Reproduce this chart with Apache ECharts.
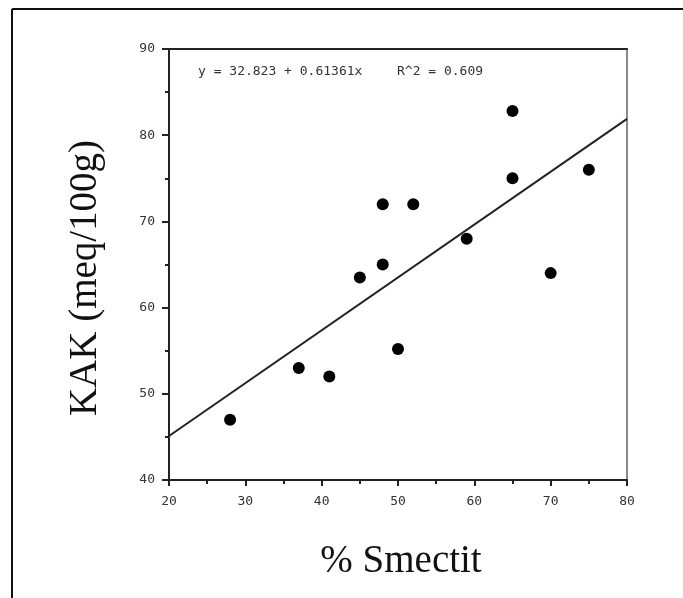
<!DOCTYPE html>
<html>
<head>
<meta charset="utf-8">
<script src="https://cdn.jsdelivr.net/npm/echarts@6/dist/echarts.min.js"></script>
<style>
  html, body { margin: 0; padding: 0; background: #fff; }
  #chart { width: 683px; height: 598px; }
</style>
</head>
<body>
<div id="chart"></div>
<script>
// % Smectit vs KAK
const smectit = [28, 37, 41, 45, 48, 48, 52, 50, 59, 65, 65, 70, 75]
const kak = [47, 53, 52, 63.5, 65, 72, 72, 55.2, 68, 82.8, 75, 64, 76]
// regression line ends (y = 32.823 + 0.61361x)
const fitX = [20, 80]
const fitY = [45.1, 81.9]
const equation = 'y = 32.823 + 0.61361x'
const rSquared = 'R^2 = 0.609'

const chart = echarts.init(document.getElementById('chart'))

const tickFont = {
  color: '#333',
  fontSize: 13,
  fontFamily: 'DejaVu Sans Mono',
}

const option = {
  animation: false,
  backgroundColor: '#fff',
  grid: { left: 169, right: 56, top: 49, bottom: 118 },
  xAxis: [
    {
      type: 'value',
      min: 20,
      max: 80,
      interval: 10,
      axisLine: { show: true, lineStyle: { color: '#222', width: 2 } },
      axisTick: { show: true, length: 6, lineStyle: { color: '#222', width: 2 } },
      minorTick: { show: true, splitNumber: 2, length: 4, lineStyle: { color: '#222', width: 2 } },
      axisLabel: Object.assign({ margin: 15 }, tickFont),
      splitLine: { show: false },
    },
    {
      type: 'value',
      position: 'top',
      min: 20,
      max: 80,
      axisLine: { show: true, lineStyle: { color: '#222', width: 2 } },
      axisTick: { show: false },
      axisLabel: { show: false },
      splitLine: { show: false },
    },
  ],
  yAxis: [
    {
      type: 'value',
      min: 40,
      max: 90,
      interval: 10,
      axisLine: { show: true, lineStyle: { color: '#222', width: 2 } },
      axisTick: { show: true, length: 7, lineStyle: { color: '#222', width: 2 } },
      minorTick: { show: true, splitNumber: 2, length: 4, lineStyle: { color: '#222', width: 2 } },
      axisLabel: Object.assign({ margin: 14 }, tickFont),
      splitLine: { show: false },
    },
    {
      type: 'value',
      position: 'right',
      min: 40,
      max: 90,
      axisLine: { show: true, lineStyle: { color: '#888', width: 2 } },
      axisTick: { show: false },
      axisLabel: { show: false },
      splitLine: { show: false },
    },
  ],
  series: [
    {
      type: 'line',
      data: fitX.map((x, i) => [x, fitY[i]]),
      showSymbol: false,
      lineStyle: { color: '#222', width: 2 },
      z: 2,
    },
    {
      type: 'scatter',
      data: smectit.map((x, i) => [x, kak[i]]),
      symbol: 'circle',
      symbolSize: 12,
      itemStyle: { color: '#000', opacity: 1 },
      z: 3,
    },
  ],
  graphic: [
    // outer frame (top and left edges only)
    { type: 'line', shape: { x1: 12, y1: 9, x2: 683, y2: 9 }, style: { stroke: '#111', lineWidth: 2 } },
    { type: 'line', shape: { x1: 12, y1: 9, x2: 12, y2: 598 }, style: { stroke: '#111', lineWidth: 2 } },
    {
      type: 'text', x: 198, y: 72,
      style: { text: equation, fill: '#333', font: '13px "DejaVu Sans Mono"', verticalAlign: 'middle' },
    },
    {
      type: 'text', x: 397, y: 72,
      style: { text: rSquared, fill: '#333', font: '13px "DejaVu Sans Mono"', verticalAlign: 'middle' },
    },
    {
      type: 'text', x: 86, y: 278, rotation: Math.PI / 2,
      style: { text: 'KAK (meq/100g)', fill: '#111', font: '39px "Liberation Serif"', align: 'center', verticalAlign: 'middle' },
    },
    {
      type: 'text', x: 401, y: 562,
      style: { text: '% Smectit', fill: '#111', font: '39px "Liberation Serif"', align: 'center', verticalAlign: 'middle' },
    },
  ],
}

chart.setOption(option)
</script>
</body>
</html>
